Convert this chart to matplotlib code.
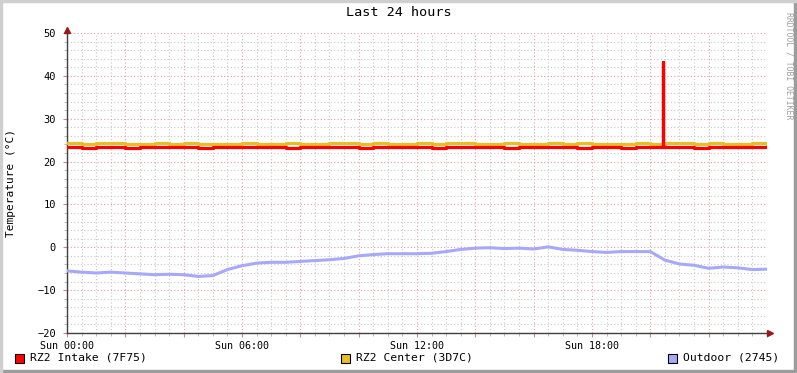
import numpy as np
import matplotlib
matplotlib.use("Agg")
import matplotlib.pyplot as plt
from matplotlib.ticker import MultipleLocator, FuncFormatter
from matplotlib.patches import Rectangle

# hours since Sun 00:00, half-hour samples
hours = np.arange(0, 24.01, 0.5)

intake = [23.4, 23.1, 23.4, 23.5, 23.2, 23.3, 23.5, 23.4, 23.3, 23.2, 23.5, 23.4,
          23.3, 23.5, 23.4, 23.2, 23.4, 23.5, 23.3, 23.4, 23.2, 23.3, 23.5, 23.4,
          23.3, 23.1, 23.4, 23.3, 23.5, 23.4, 23.2, 23.3, 23.5, 23.4, 23.3, 23.2,
          23.4, 23.3, 23.2, 23.5, 23.3, 23.4, 23.3, 23.2, 23.4, 23.3, 23.5, 23.3, 23.4]
intake_spike = (20.42, 43.2)

center = [24.3, 24.2, 24.3, 24.4, 24.2, 24.1, 24.3, 24.2, 24.3, 24.2, 24.1, 24.2,
          24.3, 24.2, 24.2, 24.3, 24.2, 24.1, 24.3, 24.4, 24.2, 24.3, 24.2, 24.1,
          24.3, 24.2, 24.3, 24.4, 24.2, 24.2, 24.3, 24.2, 24.1, 24.3, 24.2, 24.3,
          24.2, 24.1, 24.2, 24.3, 24.2, 24.3, 24.4, 24.2, 24.3, 24.2, 24.1, 24.3, 24.2]

outdoor = [-5.5, -5.8, -6.0, -5.8, -6.0, -6.2, -6.4, -6.3, -6.4, -6.8, -6.6, -5.2,
           -4.3, -3.7, -3.5, -3.5, -3.3, -3.1, -2.9, -2.6, -2.0, -1.7, -1.5, -1.5,
           -1.5, -1.4, -1.0, -0.5, -0.2, -0.1, -0.3, -0.2, -0.4, 0.1, -0.5, -0.7,
           -1.0, -1.2, -1.0, -1.0, -1.0, -3.0, -3.9, -4.2, -4.9, -4.6, -4.8, -5.2, -5.1]

legend_labels = ["RZ2 Intake (7F75)", "RZ2 Center (3D7C)", "Outdoor (2745)"]
colors = ["#FF0000", "#E6BE26", "#A8A8F8"]

fig = plt.figure(figsize=(7.97, 3.73), dpi=100)
fig.patch.set_facecolor("white")
plt.rcParams['font.family'] = ['DejaVu Sans Mono']

# frame like rrdtool (light top/left, darker bottom/right)
fig.patches.append(Rectangle((0, 0), 1, 3/373, transform=fig.transFigure, color="#9C9C9C", zorder=0))
fig.patches.append(Rectangle((1-3/797, 0), 3/797, 1, transform=fig.transFigure, color="#9C9C9C", zorder=0))
fig.patches.append(Rectangle((0, 1-2/373), 1, 2/373, transform=fig.transFigure, color="#CFCFCF", zorder=0))
fig.patches.append(Rectangle((0, 0), 2/797, 1, transform=fig.transFigure, color="#CFCFCF", zorder=0))

ax = fig.add_axes([67/797, 40/373, 700/797, 300/373])
ax.set_xlim(0, 24)
ax.set_ylim(-20, 50)

# build intake with the short spike
t_in = np.array(hours)
v_in = np.array(intake)
i = np.searchsorted(t_in, intake_spike[0])
t_in = np.insert(t_in, i, [intake_spike[0], intake_spike[0] + 0.03])
v_in = np.insert(v_in, i, [intake_spike[1], v_in[i - 1]])

ax.step(hours, center, where="post", color=colors[1], lw=2.3, zorder=3)
ax.step(t_in, v_in, where="post", color=colors[0], lw=2.3, zorder=4)
ax.plot(hours, outdoor, color=colors[2], lw=2.2, zorder=3)

ax.xaxis.set_major_locator(MultipleLocator(2))
ax.xaxis.set_minor_locator(MultipleLocator(0.5))
ax.yaxis.set_major_locator(MultipleLocator(10))
ax.yaxis.set_minor_locator(MultipleLocator(2))
ax.xaxis.set_major_formatter(FuncFormatter(
    lambda v, p: "Sun %02d:00" % v if (v % 6 == 0 and v < 24) else ""))

ax.grid(which="minor", color="#C8C8C8", linestyle=(0, (1, 2)), lw=0.8)
ax.grid(which="major", color="#E0A0A0", linestyle=(0, (1, 2)), lw=0.8)
ax.set_axisbelow(True)

for s in ["top", "right"]:
    ax.spines[s].set_visible(False)
for s in ["left", "bottom"]:
    ax.spines[s].set_color("#404040")
    ax.spines[s].set_linewidth(1)

ax.tick_params(which="major", direction="out", length=3, color="#E08080",
               labelsize=7.2, pad=3)
ax.tick_params(which="minor", direction="out", length=2, color="#B0B0B0")
ax.tick_params(axis="y", labelsize=7.5, pad=5)

# axis arrows
ax.plot([0], [50.6], marker="^", color="#9A1A1A", ms=4, clip_on=False, zorder=6)
ax.plot([24.1], [-20], marker=">", color="#9A1A1A", ms=4, clip_on=False, zorder=6)

fig.text(0.5, 1 - 13/373, "Last 24 hours", ha="center", va="center", fontsize=9.7)
fig.text(11/797, 1 - 183/373, "Temperature (°C)", rotation=90, ha="center",
         va="center", fontsize=8)
fig.text(789/797, 1 - 66/373, "RRDTOOL / TOBI OETIKER", rotation=270, ha="center",
         va="center", fontsize=5.9, color="#A0A0A0")

leg_x = [15, 341, 668]
for x0, lab, c in zip(leg_x, legend_labels, colors):
    fig.patches.append(Rectangle((x0/797, 1 - 363/373), 9/797, 9/373,
                                 transform=fig.transFigure, facecolor=c,
                                 edgecolor="black", lw=0.8))
    fig.text((x0 + 15)/797, 1 - 358/373, lab, ha="left", va="center", fontsize=8.2)

fig.savefig("out.png", dpi=100)
